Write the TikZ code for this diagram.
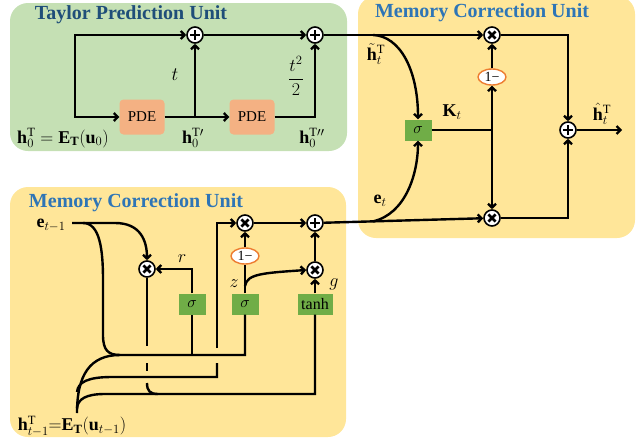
\RequirePackage{fix-cm}
\documentclass[tikz,border=0pt]{standalone}
\usepackage{fontspec}
\setmainfont{Liberation Serif}
\usetikzlibrary{arrows.meta,shapes.geometric,calc}
\definecolor{greenbg}{RGB}{197,224,180}
\definecolor{yellowbg}{RGB}{255,230,153}
\definecolor{pdecol}{RGB}{244,177,131}
\definecolor{sigcol}{RGB}{112,173,71}
\definecolor{titleA}{RGB}{31,78,121}
\definecolor{titleB}{RGB}{46,117,182}
\definecolor{orangeline}{RGB}{237,125,49}
\begin{document}
\begin{tikzpicture}[x=1pt,y=-1pt,
  wire/.style={line width=2.4pt},
  arr/.style={wire,-{Straight Barb[length=3.8pt,width=8pt]}},
  arrboth/.style={wire,{Straight Barb[length=3.8pt,width=8pt]}-{Straight Barb[length=3.8pt,width=8pt]}},
  op/.style={circle, draw=black, fill=white, line width=1.6pt, minimum size=16pt, inner sep=0pt},
  opplus/.style={op, path picture={\draw[line width=2.7pt]
     ([yshift=-5pt]path picture bounding box.center) -- ([yshift=5pt]path picture bounding box.center)
     ([xshift=-5pt]path picture bounding box.center) -- ([xshift=5pt]path picture bounding box.center);}},
  optimes/.style={op, path picture={\draw[line width=2.7pt]
     ([shift={(-3.6pt,-3.6pt)}]path picture bounding box.center) -- ([shift={(3.6pt,3.6pt)}]path picture bounding box.center)
     ([shift={(-3.6pt,3.6pt)}]path picture bounding box.center) -- ([shift={(3.6pt,-3.6pt)}]path picture bounding box.center);}},
  sig/.style={rectangle, fill=sigcol, minimum width=27pt, minimum height=21pt, inner sep=0pt, font=\fontsize{16}{18}\selectfont},
  pdebox/.style={rectangle, rounded corners=4pt, fill=pdecol, minimum width=45pt, minimum height=35pt, inner sep=0pt, font=\fontsize{15}{18}\selectfont},
  onem/.style={ellipse, draw=orangeline, fill=white, line width=1.4pt, minimum width=28pt, minimum height=16pt, inner sep=0pt, font=\fontsize{14}{16}\selectfont},
  lbl/.style={inner sep=0pt, font=\fontsize{18}{21}\selectfont},
  ttl/.style={inner sep=0pt, font=\fontsize{20}{24}\selectfont\bfseries}
]
\useasboundingbox (0,0) rectangle (637,442);
% backgrounds
\fill[greenbg, rounded corners=18pt] (10,3) rectangle (347,151);
\fill[yellowbg, rounded corners=18pt] (358,-4) rectangle (635,238);
\fill[yellowbg, rounded corners=18pt] (10,187) rectangle (346,437);
% titles
\node[ttl, text=titleA] (t1) at (131,15) {Taylor Prediction Unit};
\node[ttl, text=titleB] (t2) at (482,13) {Memory Correction Unit};
\node[ttl, text=titleB] (t3) at (136,203) {Memory Correction Unit};
% ---------- Taylor prediction unit
\node[opplus] (p1) at (195,35) {};
\node[opplus] (p2) at (315,35) {};
\node[pdebox] (pde1) at (142,117) {PDE};
\node[pdebox] (pde2) at (252,117) {PDE};
\coordinate (s0) at (75,117);
\coordinate (j1) at (195,117);
\draw[arrboth] (pde1) -- (s0) |- (p1);
\draw[arr] (pde1) -- (pde2);
\draw[arr] (j1) -- (p1);
\draw[arr] (pde2) -| (p2);
\draw[arr] (p1) -- (p2);
\node[lbl, font=\fontsize{19}{22}\selectfont] (lt) at (175,75) {$t$};
\node[lbl] (lt2) at (296,76) {$\displaystyle\frac{t^2}{2}$};
\node[lbl] (lh0) at (63,138) {$\mathbf{h}_0^{\mathrm{T}}=\mathbf{E}_{\mathbf{T}}\!\left(\mathbf{u}_0\right)$};
\node[lbl] (lh0p) at (193,138) {$\mathbf{h}_0^{\mathrm{T}\prime}$};
\node[lbl] (lh0pp) at (312,138) {$\mathbf{h}_0^{\mathrm{T}\prime\prime}$};
% ---------- bottom memory correction unit
\node[optimes] (mr) at (147,269) {};
\node[optimes] (mz) at (245,223) {};
\node[opplus] (pb) at (315,223) {};
\node[optimes] (mg) at (315,270) {};
\node[sig] (sr) at (192,304) {$\sigma$};
\node[sig] (sz) at (245,304) {$\sigma$};
\node[sig, minimum width=35pt] (th) at (315,304) {tanh};
\node[onem] (om2) at (245,256) {1−};
\node[lbl] (le1) at (51,225) {$\mathbf{e}_{t-1}$};
\coordinate (es) at (72,223);
\node[lbl] (lr) at (182,259) {$r$};
\node[lbl] (lz) at (234,284) {$z$};
\node[lbl] (lg) at (334,284) {$g$};
\node[lbl] (lh1) at (72,426) {$\mathbf{h}_{t-1}^{\mathrm{T}}{=}\mathbf{E}_{\mathbf{T}}\!\left(\mathbf{u}_{t-1}\right)$};
\coordinate (hs) at (77,413);
\coordinate (zj) at (245,286);
% e_{t-1} wiring
\draw[arr] (es) -- (115,223) .. controls (140,223) and (147,240) .. (mr.north);
\draw[wire] (83,223) .. controls (100,223) and (103,250) .. (103,280) -- (103,335) .. controls (103,350) and (108,355) .. (120,355);
% h_{t-1} buses
\draw[wire] (hs) .. controls (77,375) and (90,355) .. (120,355) -- (245,355) -- (sz.south);
\draw[wire] (192,355) -- (sr.south);
\draw[wire] (77,392) .. controls (78,382) and (88,377) .. (112,377) -- (217,377) -- (217,363);
\draw[arr] (217,348) |- (mz);
\draw[wire] (77,408) .. controls (78,399) and (86,394) .. (105,394) -- (315,394) -- (th.south);
% r * e output going down to tanh bus
\draw[wire] (mr.south) -- (147,346);
\draw[wire] (147,363) -- (147,371);
\draw[wire] (147,383) .. controls (147,391) and (150,394) .. (158,394);
% gates
\draw[arr] (sr.north) |- (mr);
\draw[wire] (sz.north) -- (om2);
\draw[arr] (om2) -- (mz);
\draw[arr] (zj) .. controls (247,274) and (262,273) .. (mg.west);
\draw[arr] (th) -- (mg);
\draw[arr] (mg) -- (pb);
\draw[arr] (mz) -- (pb);
% ---------- right memory correction unit
\node[optimes] (m1) at (492,35) {};
\node[optimes] (m2) at (492,218) {};
\node[sig] (sg) at (418,130) {$\sigma$};
\node[onem] (om1) at (492,77) {1−};
\node[opplus] (p3) at (568,130) {};
\coordinate (kj) at (492,130);
\coordinate (out) at (622,130);
\coordinate (ht) at (373,35);
\coordinate (et) at ($(pb)!0.328!(m2)$);
\draw[arr] (p2) -- (m1);
\draw[arr] (pb) -- (m2);
\draw[arr] (ht) .. controls (400,36) and (418,70) .. (sg.north);
\draw[arr] (et) .. controls (405,214) and (418,175) .. (sg.south);
\draw[wire] (sg) -- (kj);
\draw[arr] (kj) -- (om1);
\draw[arr] (om1) -- (m1);
\draw[arr] (kj) -- (m2);
\draw[arr] (m1) -| (p3);
\draw[arr] (m2) -| (p3);
\draw[arr] (p3) -- (out);
\node[lbl] (lh) at (376,54) {$\tilde{\mathbf{h}}_t^{\mathrm{T}}$};
\node[lbl] (lk) at (452,112) {$\mathbf{K}_t$};
\node[lbl] (le) at (380,201) {$\mathbf{e}_t$};
\node[lbl] (lhh) at (602,114) {$\hat{\mathbf{h}}_t^{\mathrm{T}}$};
\end{tikzpicture}
\end{document}
